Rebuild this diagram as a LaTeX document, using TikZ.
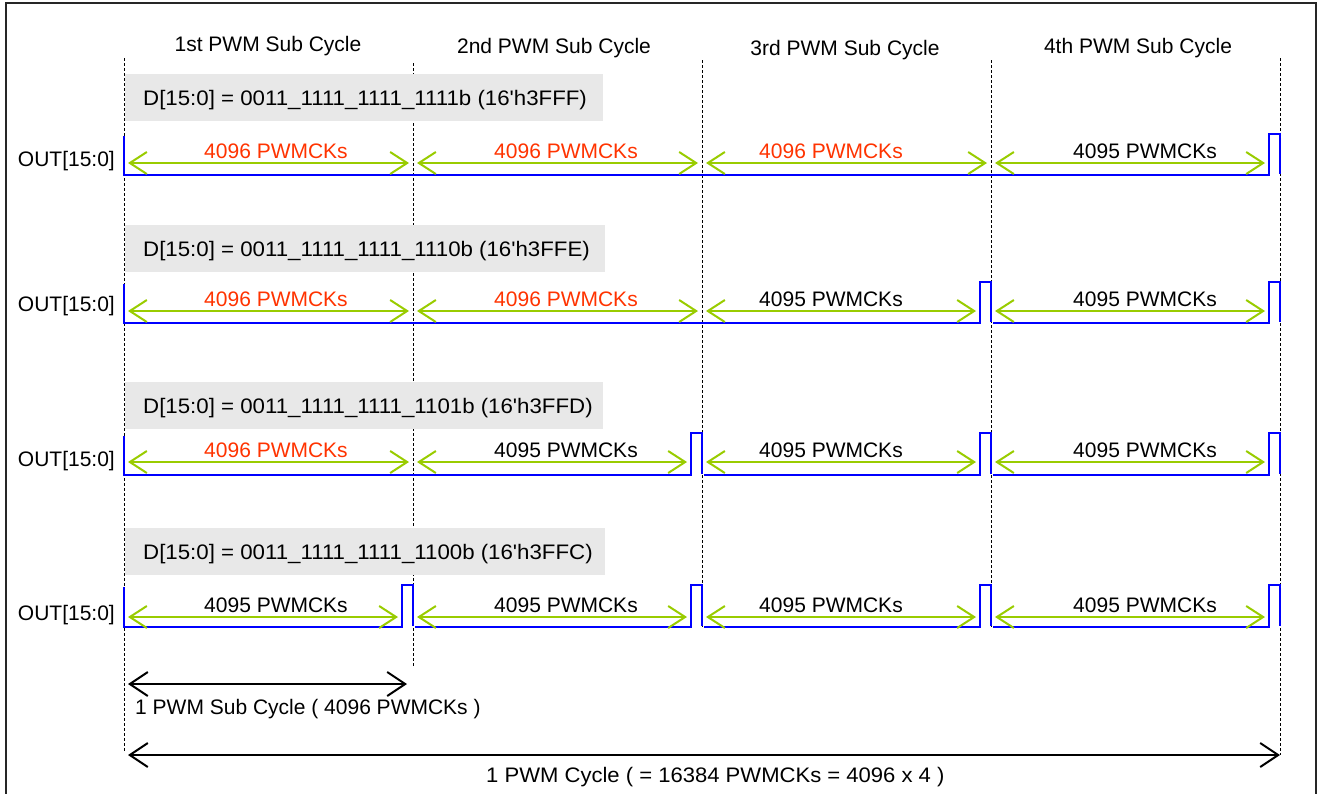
\documentclass[tikz,border=0pt]{standalone}
\usepackage{fontspec}
\setmainfont{Liberation Sans}
\usetikzlibrary{arrows.meta}
\definecolor{pwmgreen}{RGB}{153,204,0}
\definecolor{pwmred}{RGB}{255,51,0}
\definecolor{pwmblue}{RGB}{0,0,255}
\definecolor{boxgray}{RGB}{232,232,232}
\newcommand\widetxt[2]{\scalebox{#1}[1]{#2}}
\begin{document}
\begin{tikzpicture}[x=1pt,y=-1pt,
  lbl/.style={font=\fontsize{21}{25}\selectfont, inner sep=0pt},
  gridline/.style={black, line width=1pt, dash pattern=on 3pt off 2pt},
  wave/.style={pwmblue, line width=2pt},
  gdim/.style={pwmgreen, line width=2pt, {Straight Barb[length=17pt,width=22pt]}-{Straight Barb[length=17pt,width=22pt]}},
  bdim/.style={black, line width=2pt, {Straight Barb[length=18pt,width=24pt]}-{Straight Barb[length=18pt,width=24pt]}},
  dbox/.style={fill=boxgray, draw=none}]
\useasboundingbox (0,0) rectangle (1321,793);
\begin{scope}
\clip (0,0) rectangle (1321,793);
\draw[line width=2pt, black!85] (6,3) rectangle (1316,830);
\end{scope}

% column titles
\node[lbl, anchor=base] (t1) at (268,51) {1st PWM Sub Cycle};
\node[lbl, anchor=base] (t2) at (554,53) {2nd PWM Sub Cycle};
\node[lbl, anchor=base] (t3) at (845,55) {3rd PWM Sub Cycle};
\node[lbl, anchor=base] (t4) at (1138,53) {4th PWM Sub Cycle};

% dashed boundaries
\draw[gridline] (124,58) -- (124,752);
\draw[gridline] (413,63) -- (413,667);
\draw[gridline] (702,60) -- (702,627);
\draw[gridline] (991,60) -- (991,627);
\draw[gridline] (1280,58) -- (1280,755);

% data boxes
\fill[dbox] (125,74) rectangle (603,121);
\fill[dbox] (125,225) rectangle (605,272);
\fill[dbox] (125,382) rectangle (603,429);
\fill[dbox] (125,528) rectangle (605,575);
\node[lbl, anchor=base west] (d1) at (143,105) {\widetxt{1.06}{D[15:0] = 0011\_1111\_1111\_1111b (16\textquotesingle h3FFF)}};
\node[lbl, anchor=base west] (d2) at (143,256) {\widetxt{1.06}{D[15:0] = 0011\_1111\_1111\_1110b (16\textquotesingle h3FFE)}};
\node[lbl, anchor=base west] (d3) at (143,413) {\widetxt{1.06}{D[15:0] = 0011\_1111\_1111\_1101b (16\textquotesingle h3FFD)}};
\node[lbl, anchor=base west] (d4) at (143,559) {\widetxt{1.06}{D[15:0] = 0011\_1111\_1111\_1100b (16\textquotesingle h3FFC)}};

% OUT labels
\node[lbl, anchor=base east] (o1) at (115,166) {OUT[15:0]};
\node[lbl, anchor=base east] (o2) at (115,311) {OUT[15:0]};
\node[lbl, anchor=base east] (o3) at (115,466) {OUT[15:0]};
\node[lbl, anchor=base east] (o4) at (115,620) {OUT[15:0]};

% waveforms
\draw[wave] (124,136) -- (124,175) -- (1269,175) -- (1269,134) -- (1280,134) -- (1280,174);
\draw[wave] (124,284) -- (124,323) -- (980,323) -- (980,282) -- (991,282) -- (991,322)
            (993,323) -- (1269,323) -- (1269,282) -- (1280,282) -- (1280,322);
\draw[wave] (124,436) -- (124,475) -- (691,475) -- (691,433) -- (702,433) -- (702,474)
            (704,475) -- (980,475) -- (980,433) -- (991,433) -- (991,474)
            (993,475) -- (1269,475) -- (1269,433) -- (1280,433) -- (1280,474);
\draw[wave] (124,587) -- (124,627) -- (402,627) -- (402,585) -- (413,585) -- (413,626)
            (415,627) -- (691,627) -- (691,585) -- (702,585) -- (702,626)
            (704,627) -- (980,627) -- (980,585) -- (991,585) -- (991,626)
            (993,627) -- (1269,627) -- (1269,585) -- (1280,585) -- (1280,626);

% green dimension arrows and labels
\foreach \ay/\i/\n in {163/0/6,163/1/6,163/2/6,163/3/5,
                       311/0/6,311/1/6,311/2/5,311/3/5,
                       462/0/6,462/1/5,462/2/5,462/3/5,
                       617/0/5,617/1/5,617/2/5,617/3/5}{
  \pgfmathsetmacro\xs{124+289*\i+4}
  \pgfmathsetmacro\xe{124+289*(\i+1)-(\n==6?4:15)}
  \pgfmathsetmacro\xl{{276,566,831,1145}[\i]}
  \draw[gdim] (\xs,\ay) -- (\xe,\ay);
  \ifnum\n=6
    \node[lbl, text=pwmred] (c-\ay-\i) at (\xl,\ay-12) {4096 PWMCKs};
  \else
    \node[lbl] (c-\ay-\i) at (\xl,\ay-12) {4095 PWMCKs};
  \fi
}

% bottom dimensions
\draw[bdim] (128,684) -- (407,684);
\node[lbl, anchor=base west] (sub) at (135,714) {1 PWM Sub Cycle ( 4096 PWMCKs )};
\draw[bdim] (128,755) -- (1280,755);
\node[lbl, anchor=base west] (full) at (486,782) {\widetxt{1.05}{1 PWM Cycle ( = 16384 PWMCKs = 4096 x 4 )}};
\end{tikzpicture}
\end{document}
